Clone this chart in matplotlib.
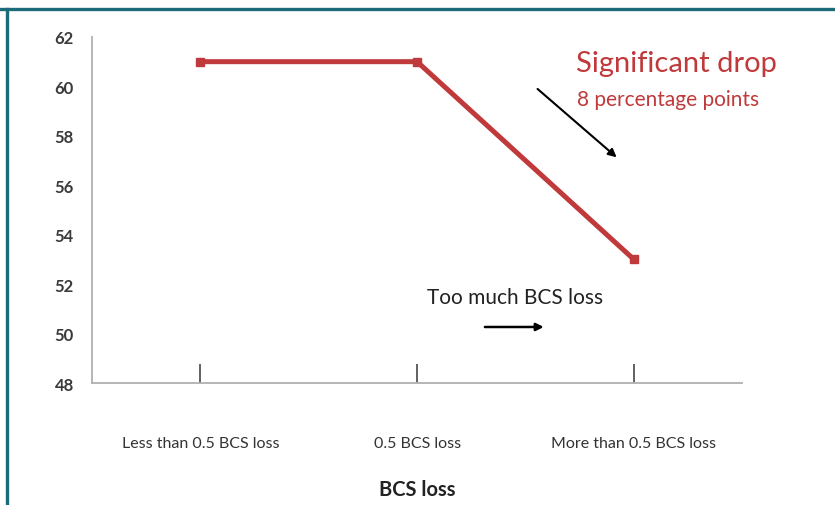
import matplotlib
matplotlib.use("Agg")
import matplotlib.pyplot as plt
from matplotlib.lines import Line2D

plt.rcParams['font.family'] = ['Lato', 'DejaVu Sans']

# data
categories = ["Less than 0.5 BCS loss", "0.5 BCS loss", "More than 0.5 BCS loss"]
values = [61, 61, 53]
yticks = [48, 50, 52, 54, 56, 58, 60, 62]

red = "#c0393b"
teal = "#1b6b7b"

fig = plt.figure(figsize=(8.35, 5.06), dpi=100)
ax = fig.add_axes([0.110, 0.241, 0.779, 0.684])

x = list(range(len(categories)))
ax.plot(x, values, color=red, lw=3.6, marker="s", markersize=6,
        markerfacecolor=red, markeredgecolor=red, solid_joinstyle="miter")

ax.set_xlim(-0.5, 2.5)
ax.set_ylim(48, 62)
ax.set_yticks(yticks)
ax.set_yticklabels([str(v) for v in yticks], fontsize=12, fontweight="bold", color="#3a3a3a")
ax.tick_params(axis="y", length=0, pad=13)

ax.set_xticks(x)
ax.set_xticklabels(categories, fontsize=11.5, color="#333333")
ax.tick_params(axis="x", direction="in", length=14, width=1.3, color="#555555", pad=38)
ax.set_xlabel("BCS loss", fontsize=14.5, fontweight="bold", color="#222222", labelpad=21)

for s in ["top", "right"]:
    ax.spines[s].set_visible(False)
for s in ["left", "bottom"]:
    ax.spines[s].set_color("#b0b0b0")
    ax.spines[s].set_linewidth(1.3)

# annotations
ax.text(0.745, 0.925, "Significant drop", transform=ax.transAxes, color=red,
        fontsize=21, va="center", ha="left")
ax.text(0.746, 0.82, "8 percentage points", transform=ax.transAxes, color=red,
        fontsize=15, va="center", ha="left")
ax.annotate("", xy=(0.810, 0.647), xytext=(0.682, 0.855), xycoords="axes fraction",
            arrowprops=dict(arrowstyle="-|>", color="black", lw=1.5, mutation_scale=12))
ax.text(0.516, 0.25, "Too much BCS loss", transform=ax.transAxes, color="#222222",
        fontsize=15, va="center", ha="left")
ax.annotate("", xy=(0.699, 0.162), xytext=(0.600, 0.162), xycoords="axes fraction",
            arrowprops=dict(arrowstyle="-|>", color="black", lw=1.8, mutation_scale=11))

# teal frame (top and left)
fig.add_artist(Line2D([0, 1], [1 - 9.5 / 506, 1 - 9.5 / 506], color=teal, lw=2.4,
                      transform=fig.transFigure))
fig.add_artist(Line2D([7 / 835, 7 / 835], [0, 1 - 9.5 / 506], color=teal, lw=2.4,
                      transform=fig.transFigure))

fig.savefig("out.png", dpi=100)
